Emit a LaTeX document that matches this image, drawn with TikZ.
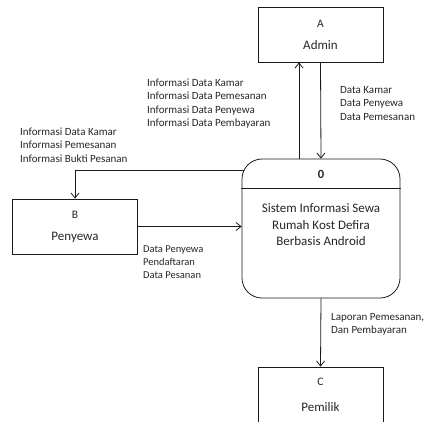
\documentclass[tikz,border=0pt]{standalone}
\usepackage{fontspec}
\setmainfont{Carlito}
\usepackage{tikz}
\usetikzlibrary{calc,arrows.meta,positioning}
\definecolor{garis}{HTML}{1A1A1A}
\definecolor{teks}{HTML}{262626}

\begin{document}
\begin{tikzpicture}[x=1pt,y=-1pt,>={Straight Barb[length=5pt,width=8pt]},line cap=round,
    entitas/.style={draw=garis,line width=0.8pt,minimum width=125pt,minimum height=55pt,
                    align=center,text=teks,font=\fontsize{13}{15}\selectfont},
    proses/.style={draw=garis,line width=0.8pt,rounded corners=20pt,minimum width=158pt,
                   minimum height=139pt},
    aliran/.style={->,draw=garis,line width=0.8pt},
    ket/.style={align=left,anchor=west,inner sep=0pt,text=teks,
                font=\fontsize{11}{13.3}\selectfont}]
        \clip (0,0) rectangle (425,421);
        % entitas luar
        \node[entitas] (admin) at (320.5,34.5)
              {{\fontsize{11.5}{12}\selectfont A}\\[7pt]Admin};
        \node[entitas] (penyewa) at (75,226.5)
              {{\fontsize{11.5}{12}\selectfont B}\\[7pt]Penyewa};
        \node[entitas,minimum height=60pt,text depth=0pt] (pemilik) at (320.5,397)
              {};
        \node[text=teks,font=\fontsize{11.5}{12}\selectfont] (pemilikid) at (320.5,382) {C};
        \node[text=teks,font=\fontsize{13}{15}\selectfont] (pemiliknama) at (320.5,407) {Pemilik};
        % proses 0
        \node[proses] (sistem) at (321,228.5) {};
        \draw[garis,line width=0.8pt] (sistem.west |- 0,188) -- (sistem.east |- 0,188);
        \node[text=teks,font=\fontsize{12.5}{13}\selectfont\bfseries] (sistemid) at (321,174) {0};
        \node[align=center,text=teks,font=\fontsize{13}{16.5}\selectfont] (sistemnama) at (321,225)
              {Sistem Informasi Sewa\\Rumah Kost Defira\\Berbasis Android};
        % aliran data
        \draw[aliran] (admin.south) -- (sistem.north);
        \draw[aliran] ([xshift=-22pt]sistem.north) -- ([xshift=-22pt]sistem.north |- admin.south);
        \draw[aliran] ([shift={(2pt,-12pt)}]sistem.north west) -| (penyewa.north);
        \draw[aliran] (penyewa.east) -- (penyewa.east -| sistem.west);
        \draw[aliran] (sistem.south) -- (pemilik.north);
        % keterangan
        \node[ket] (infoadmin) at (147,103.5)
              {Informasi Data Kamar\\Informasi Data Pemesanan\\Informasi Data Penyewa\\Informasi Data Pembayaran};
        \node[ket] (dataadmin) at (340,103.5)
              {Data Kamar\\Data Penyewa\\Data Pemesanan};
        \node[ket] (infopenyewa) at (20,145)
              {Informasi Data Kamar\\Informasi Pemesanan\\Informasi Bukti Pesanan};
        \node[ket,font=\fontsize{10.5}{13}\selectfont] (datapenyewa) at (143,262)
              {Data Penyewa\\Pendaftaran\\Data Pesanan};
        \node[ket] (laporan) at (331,324.5)
              {Laporan Pemesanan,\\Dan Pembayaran};
      \end{tikzpicture}
\end{document}
